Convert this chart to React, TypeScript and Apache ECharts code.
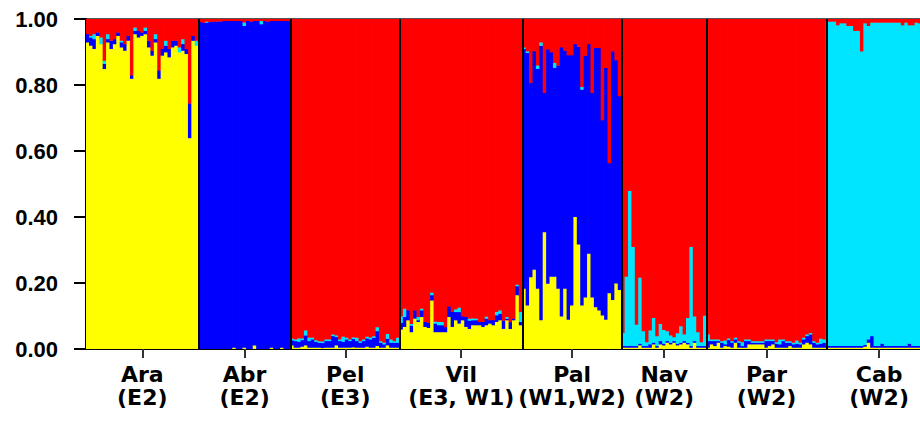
import React, { useEffect, useRef } from 'react';
import * as echarts from 'echarts';

// Cluster membership (Q) per individual. Red = remainder.
const araYellow = [.93,.92,.91,.95,.925,.85,.93,.91,.925,.95,.915,.905,.935,.82,.955,.945,.95,.955,.915,.89,.93,.82,.89,.90,.885,.915,.92,.90,.905,.895,.64,.935,.92];
const araBlue = [.025,.025,.03,.01,0,.015,.01,.025,.015,.01,.015,.02,.015,.01,.01,.02,.01,.01,.02,.015,.01,.025,.02,.02,.025,.02,.015,0,.02,.015,.105,.015,0];
const araCyan = [0,.005,.015,0,.02,.01,.015,0,0,0,.005,0,0,0,.01,0,0,.01,0,0,.015,0,0,.015,0,0,0,.015,.015,0,0,0,.015];

const abrYellow = [0,0,0,0,0,0,0,0,0,0,.005,0,0,.005,0,0,.012,0,0,0,0,.005,0,0,.005,0,0];
const abrBlue = [.992,.99,.99,.992,.993,.993,.993,.995,.995,.995,.99,.995,.995,.975,.995,.993,.983,.995,.985,.995,.993,.99,.995,.995,.99,.995,.995];
const abrCyan = [0,0,.003,0,0,0,0,0,0,0,0,0,0,.01,0,0,0,0,.01,0,0,0,0,0,0,0,0];

const pelYellow = [.012,.005,.005,.008,.012,.005,.005,.005,.005,.004,.005,.005,.005,.012,.005,.005,.005,.005,.006,.005,.005,.005,.008,.005,.005,.01,.005,.005,.012,.005,.005,.005];
const pelBlue = [.015,.02,.018,.02,.03,.02,.025,.018,.015,.015,.02,.02,.035,.025,.02,.018,.025,.02,.025,.02,.015,.02,.025,.025,.03,.045,.015,.01,.02,.015,.015,.015];
const pelCyan = [.005,.005,.01,.005,.015,.01,.005,.005,.005,.005,.005,.005,.005,.005,.005,.015,.005,.005,.005,.01,.005,.005,.005,.005,.005,.012,.005,.005,.015,.01,.005,.015];

const vilYellow = [.06,.068,.088,.052,.093,.083,.098,.068,.065,.148,.052,.052,.052,.052,.098,.068,.088,.078,.088,.068,.062,.073,.073,.073,.068,.073,.078,.073,.083,.088,.062,.088,.062,.088,.164,.073];
const vilBlue = [.02,.03,.03,.02,.025,.005,.02,.015,.015,.016,.026,.021,.021,.015,.032,.045,.025,.035,.012,.03,.025,.015,.015,.01,.015,.02,.01,.015,.02,.02,.025,.005,.02,.005,.027,.01];
const vilCyan = [.02,.025,0,.005,0,.01,.005,0,0,.008,.006,.01,.01,0,0,0,.008,.013,0,0,.006,.006,.005,0,0,.006,0,0,.01,.01,0,.005,0,0,.005,.03];

const palYellow = [.184,.133,.219,.241,.184,.088,.355,.199,.22,.22,.184,.10,.184,.09,.133,.401,.318,.133,.157,.29,.157,.128,.118,.103,.09,.17,.15,.20,.18];
const palBlue = [.726,.765,.588,.662,.666,.832,.422,.71,.68,.633,.676,.815,.721,.801,.758,.524,.599,.654,.733,.635,.62,.785,.795,.591,.763,.394,.753,.676,.587];
const palCyan = [.005,.005,0,0,.01,.01,0,0,0,.015,0,0,0,0,0,0,0,.008,0,0,0,0,0,0,0,0,0,0,0];

const navYellow = [.005,.005,.005,.005,.005,.012,.005,.005,.005,.015,.005,.015,.012,.02,.015,.02,.012,.015,.02,.015,.005,.02,.005,.005,.005];
const navBlue = [.005,.005,.005,.005,.005,.005,.005,.005,.01,.005,.005,.01,.005,.005,.005,.005,.005,.005,.005,.005,.005,.005,.005,.005,.005];
const navCyan = [.04,.21,.47,.30,.065,.20,.045,.012,.042,.075,.03,.052,.042,.03,.022,.012,.032,.05,.02,.075,.30,.075,.042,.012,.092];

const parYellow = [.005,.015,.01,.02,.005,.01,.008,.005,.02,.005,.005,.005,.015,.015,.015,.015,.015,.005,.01,.015,.005,.005,.005,.005,.01,.005,.005,.005,.015,.02,.015,.005,.005,.005,.005];
const parBlue = [.02,.01,.015,.005,.015,.005,.02,.015,.01,.015,.005,.02,.01,.005,.005,.005,.005,.02,.015,.01,.012,.01,.02,.015,.01,.01,.012,.01,.015,.02,.03,.015,.01,.012,.015];
const parCyan = [.02,.005,.005,.005,.005,.012,.005,.005,.005,.005,.012,.005,.005,.005,.005,.005,.005,.005,.005,.005,.005,.015,.005,.005,.005,.005,.01,.005,.005,.005,.005,.005,.005,.015,.01];

const cabYellow = [.005,.005,.005,.005,.005,.005,.005,.005,.005,.005,.005,.008,.02,.005,.005,.005,.005,.005,.005,.005,.005,.005,.005,.005,.005,.005,.005,.005,.008,.008,.005];
const cabBlue = [.005,.005,.005,.005,.005,.005,.005,.005,.005,.005,.005,.005,.01,.035,.005,.005,.012,.005,.005,.005,.005,.005,.005,.005,.012,.005,.005,.005,.005,.005,.005];
const cabCyan = [.983,.983,.983,.972,.978,.978,.97,.97,.955,.955,.893,.975,.95,.95,.98,.98,.973,.98,.98,.98,.98,.98,.972,.98,.965,.972,.98,.978,.979,.979,.982];

const POP_NAMES = ['Ara', 'Abr', 'Pel', 'Vil', 'Pal', 'Nav', 'Par', 'Cab'];
const POP_REGIONS = ['(E2)', '(E2)', '(E3)', '(E3, W1)', '(W1,W2)', '(W2)', '(W2)', '(W2)'];
const POP_DATA = [
  [araYellow, araBlue, araCyan],
  [abrYellow, abrBlue, abrCyan],
  [pelYellow, pelBlue, pelCyan],
  [vilYellow, vilBlue, vilCyan],
  [palYellow, palBlue, palCyan],
  [navYellow, navBlue, navCyan],
  [parYellow, parBlue, parCyan],
  [cabYellow, cabBlue, cabCyan],
];
const Y_TICKS = [0, 0.2, 0.4, 0.6, 0.8, 1.0];

// stacking order bottom -> top: yellow, blue, cyan, red
const COLORS = ['#FFFF00', '#0000FF', '#00E5FF', '#FF0000'];
const FONT_Y = '"Liberation Sans", Arial, Helvetica, sans-serif';
const FONT_X = '"DejaVu Sans", "Liberation Sans", Arial, sans-serif';

export default function App() {
  const ref = useRef<HTMLDivElement>(null);
  useEffect(() => {
    document.body.style.margin = '0';
    if (!ref.current) return;
    const chart = echarts.init(ref.current, undefined, { renderer: 'svg' });

    const rows: number[][] = [];
    const cats: string[] = [];
    const boundaries: number[] = [];
    const centers: number[] = [];
    let start = 0;
    POP_DATA.forEach(([ys, bs, cs], p) => {
      const n = ys.length;
      for (let i = 0; i < n; i++) {
        const y = ys[i] ?? 0, b = bs[i] ?? 0, c = cs[i] ?? 0;
        const r = Math.max(0, 1 - y - b - c);
        rows.push([start + i, y, b, c, r]);
        cats.push(POP_NAMES[p] + '-' + (i + 1));
      }
      centers.push(start + n / 2);
      start += n;
      boundaries.push(start);
    });
    const N = start;

    const labelFor = (v: number) => {
      const idx = centers.findIndex((c) => Math.abs(c - v) < 0.01);
      return idx >= 0 ? POP_NAMES[idx] + '\n' + POP_REGIONS[idx] : '';
    };

    const renderItem = (params: any, api: any) => {
      const i = api.value(0);
      const w = api.size([1, 0])[0];
      const cx = api.coord([i, 0])[0];
      let acc = 0;
      const children: any[] = [];
      for (let k = 0; k < 4; k++) {
        const v = api.value(k + 1);
        if (v > 0) {
          const p0 = api.coord([i, acc]);
          const p1 = api.coord([i, Math.min(1, acc + v)]);
          const extra = k > 0 ? 0.4 : 0;
          children.push({
            type: 'rect',
            shape: { x: cx - w / 2 - 0.4, y: p1[1], width: w + 0.8, height: p0[1] - p1[1] + extra },
            style: { fill: COLORS[k] },
          });
        }
        acc += v;
      }
      return { type: 'group', children };
    };

    chart.setOption({
      animation: false,
      grid: {
        left: 86, width: 846, top: 19, height: 330, outerBoundsMode: 'none',
        show: true, borderColor: '#555', borderWidth: 2,
      },
      xAxis: [
        { type: 'category', data: cats, show: false, boundaryGap: true },
        {
          type: 'value', min: 0, max: N, position: 'bottom',
          splitLine: { show: false },
          axisLine: { show: true, lineStyle: { color: '#000', width: 2 } },
          axisTick: { show: true, customValues: centers, length: 9, lineStyle: { color: '#333', width: 2 } },
          axisLabel: {
            customValues: centers, formatter: labelFor, fontSize: 22, fontWeight: 'bold',
            color: '#000', lineHeight: 23, margin: 14, fontFamily: FONT_X,
          },
        },
      ],
      yAxis: {
        type: 'value', min: 0, max: 1, interval: 0.2,
        splitLine: { show: false },
        axisLine: { show: true, lineStyle: { color: '#000', width: 2 } },
        axisTick: { show: true, length: 12, lineStyle: { color: '#000', width: 2 } },
        axisLabel: {
          formatter: (v: number) => (Y_TICKS.some((t) => Math.abs(t - v) < 1e-6) ? v.toFixed(2) : ''),
          fontSize: 22, fontWeight: 'bold', color: '#000', margin: 28, fontFamily: FONT_Y,
        },
      },
      series: [
        {
          type: 'custom', xAxisIndex: 0, yAxisIndex: 0, data: rows, renderItem,
          encode: { x: 0, y: [1, 2, 3, 4] }, silent: true, clip: true,
        },
        {
          type: 'line', xAxisIndex: 1, yAxisIndex: 0, data: [[0, 0]], symbol: 'none',
          lineStyle: { width: 0, opacity: 0 }, silent: true, z: 10,
          markLine: {
            symbol: ['none', 'none'], silent: true, label: { show: false },
            lineStyle: { color: '#000', width: 2, type: 'solid' },
            emphasis: { disabled: true },
            data: boundaries.slice(0, -1).map((b) => ({ xAxis: b })),
          },
        },
      ],
    });
    return () => chart.dispose();
  }, []);
  return <div ref={ref} style={{ width: 920, height: 428 }} />;
}
